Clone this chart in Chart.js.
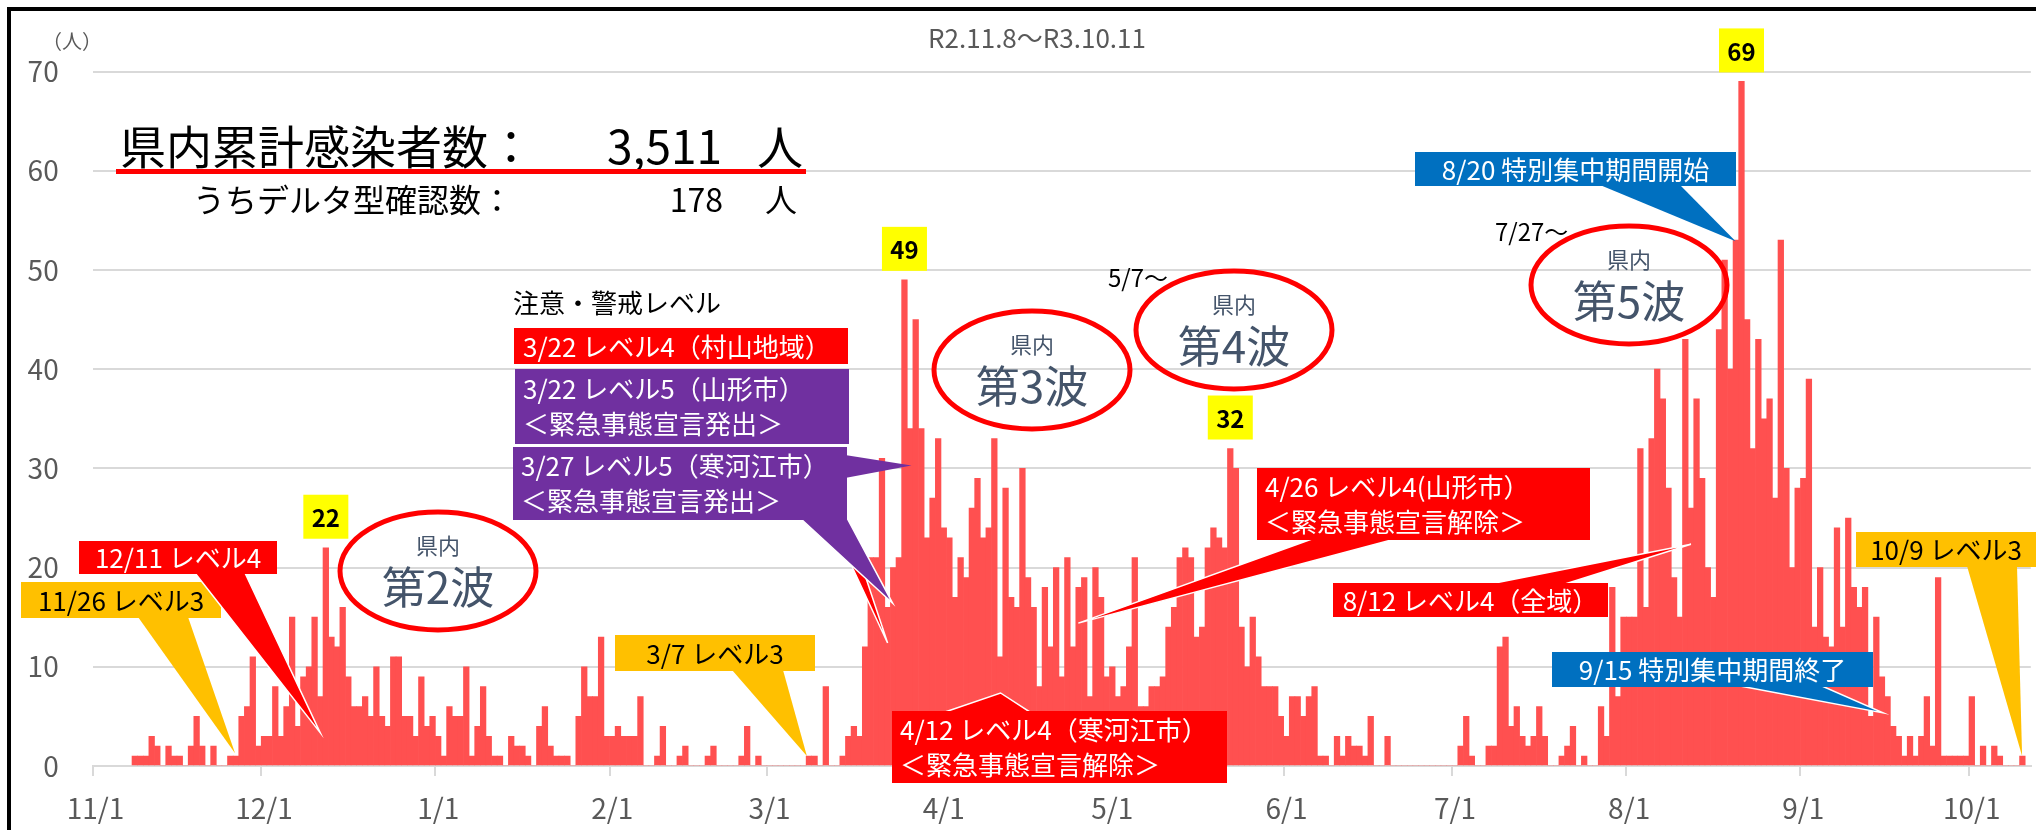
<!DOCTYPE html>
<html lang="ja">
<head>
<meta charset="utf-8">
<title>県内感染者数の推移</title>
<script src="https://cdn.jsdelivr.net/npm/chart.js@4/dist/chart.umd.min.js"></script>
<style>
  html, body { margin: 0; padding: 0; background: #fff; overflow: hidden; }
  #wrap { position: relative; width: 2036px; height: 830px; overflow: hidden; }
  #frame { position: absolute; left: 7px; top: 7px; width: 2100px; height: 900px; border: 4px solid #000; }
  #chart { position: absolute; left: 0; top: 0; }
</style>
</head>
<body>
<div id="wrap">
  <div id="frame"></div>
  <canvas id="chart" width="2044" height="830"></canvas>
</div>
<script>
// daily confirmed cases, one array per month (R2.11.8 - R3.10.11)
const nov2020 = [null, null, null, null, null, null, null, 1, 1, 1, 3, 2, 0, 2, 1, 1, 0, 2, 5, 2, 0, 2, 0, 0, 1, 1, 5, 6, 11, 2];
const dec2020 = [3, 3, 8, 3, 6, 15, 4, 9, 10, 15, 7, 22, 13, 12, 16, 9, 6, 6, 7, 5, 10, 5, 4, 11, 11, 5, 5, 3, 9, 4, 5];
const jan2021 = [3, 1, 6, 5, 5, 10, 1, 4, 8, 3, 1, 1, 0, 3, 2, 2, 1, 0, 4, 6, 2, 1, 1, 1, 0, 5, 10, 7, 7, 13, 3];
const feb2021 = [3, 4, 3, 3, 3, 7, 0, 0, 1, 4, 0, 0, 1, 2, 0, 0, 0, 1, 2, 0, 0, 0, 0, 1, 4, 0, 1, 0];
const mar2021 = [0, 0, 0, 0, 0, 0, 0, 1, 1, 0, 8, 0, 0, 1, 3, 4, 3, 12, 21, 21, 31, 16, 20, 21, 49, 34, 45, 34, 23, 27, 33];
const apr2021 = [24, 23, 17, 21, 19, 26, 29, 23, 24, 33, 11, 28, 17, 16, 30, 19, 16, 8, 18, 12, 20, 9, 21, 12, 18, 19, 7, 20, 17, 9];
const may2021 = [10, 7, 8, 12, 21, 6, 6, 8, 8, 9, 14, 16, 21, 22, 21, 13, 14, 22, 24, 23, 22, 32, 30, 14, 10, 15, 11, 8, 8, 8, 5];
const jun2021 = [3, 7, 7, 5, 7, 8, 1, 1, 0, 3, 1, 3, 2, 2, 1, 5, 0, 0, 3, 0, 0, 0, 0, 0, 0, 0, 0, 0, 0, 0];
const jul2021 = [0, 2, 5, 1, 0, 0, 2, 2, 12, 13, 4, 6, 3, 2, 3, 6, 3, 0, 0, 1, 2, 4, 0, 1, 0, 0, 6, 3, 18, 7, 15];
const aug2021 = [15, 15, 32, 16, 33, 40, 37, 28, 19, 15, 43, 26, 37, 29, 20, 17, 44, 51, 40, 53, 69, 45, 32, 43, 35, 37, 27, 53, 30, 20, 28];
const sep2021 = [29, 39, 14, 20, 13, 12, 24, 14, 25, 18, 16, 18, 5, 15, 9, 7, 4, 3, 1, 3, 1, 3, 7, 2, 19, 1, 1, 1, 1, 1];
const oct2021 = [7, 0, 2, 0, 2, 1, 0, 0, 0, 1, null];

const months = [
  [11, nov2020], [12, dec2020], [1, jan2021], [2, feb2021], [3, mar2021], [4, apr2021],
  [5, may2021], [6, jun2021], [7, jul2021], [8, aug2021], [9, sep2021], [10, oct2021]
];
const dayLabels = [];
const dailyCases = [];
months.forEach(([m, cases]) => {
  cases.forEach((v, i) => {
    dayLabels.push(m + '/' + (i + 1));
    dailyCases.push(v);
  });
});

// days whose value gets a yellow label
const peakDays = ['12/12', '3/25', '5/22', '8/21'];

const FONT = "'Noto Sans CJK JP', 'Noto Sans', sans-serif";
const GOLD = '#FFC000', RED = '#FF0000', PURPLE = '#7030A0', BLUE = '#0070C0';

// callout boxes: box = [x, y, w, h], base = pointer base, tip = [day position, value]
const callouts = [
  { lines: ['11/26 レベル3'], box: [21, 582, 200, 36], fill: GOLD, color: '#000', base: [138, 617, 188, 617], tip: [25.34, 1.28] },
  { lines: ['12/11 レベル4'], box: [79, 541, 198, 33], fill: RED, color: '#fff', base: [195, 573, 245, 573], tip: [40.49, 3.36], outline: true },
  { lines: ['3/7 レベル3'], box: [615, 635, 200, 36], fill: GOLD, color: '#000', base: [732, 670, 783, 670], tip: [127.13, 1.0] },
  { lines: ['3/22 レベル4（村山地域）'], box: [514, 328, 334, 36], fill: RED, color: '#fff', base: [821, 500, 840, 500], tip: [141.5, 12.4], outline: true, left: true },
  { lines: ['3/22 レベル5（山形市）', '＜緊急事態宣言発出＞'], box: [515, 369, 334, 75], fill: PURPLE, color: '#fff', base: [800, 518, 847, 518], tip: [142.4, 16.4], outline: true },
  { lines: ['3/27 レベル5（寒河江市）', '＜緊急事態宣言発出＞'], box: [513, 447, 334, 73], fill: PURPLE, color: '#fff', base: [845, 455, 845, 478], tip: [145.75, 30.3] },
  { lines: ['4/12 レベル4（寒河江市）', '＜緊急事態宣言解除＞'], box: [892, 711, 335, 72], fill: RED, color: '#fff', base: [945, 712, 1030, 712], tip: [161.6, 7.36], outline: true },
  { lines: ['4/26 レベル4(山形市）', '＜緊急事態宣言解除＞'], box: [1257, 468, 333, 72], fill: RED, color: '#fff', base: [1312, 539, 1395, 539], tip: [175.45, 14.4], outline: true },
  { lines: ['8/12 レベル4（全域）'], box: [1333, 583, 275, 34], fill: RED, color: '#fff', base: [1490, 584, 1565, 584], tip: [284.5, 22.35], outline: true },
  { lines: ['8/20 特別集中期間開始'], box: [1415, 152, 321, 34], fill: BLUE, color: '#fff', base: [1600, 185, 1680, 185], tip: [292.45, 52.9] },
  { lines: ['9/15 特別集中期間終了'], box: [1552, 652, 321, 35], fill: BLUE, color: '#fff', base: [1740, 686, 1822, 686], tip: [318.7, 5.35], outline: true },
  { lines: ['10/9 レベル3'], box: [1856, 532, 180, 35], fill: GOLD, color: '#000', base: [1967, 566, 2017, 566], tip: [343.45, 1.0] }
];

const waves = [
  { label: '第2波', cx: 438, cy: 571 },
  { label: '第3波', cx: 1032, cy: 370 },
  { label: '第4波', cx: 1234, cy: 330 },
  { label: '第5波', cx: 1629, cy: 285 }
];

function xAt(chart, pos) {
  const xs = chart.scales.x;
  const step = xs.getPixelForValue(1) - xs.getPixelForValue(0);
  return xs.getPixelForValue(0) + (pos - 0.5) * step;
}

function text(ctx, str, x, y, size, color, align, weight) {
  ctx.font = (weight || '') + ' ' + size + 'px ' + FONT;
  ctx.fillStyle = color;
  ctx.textAlign = align || 'left';
  ctx.textBaseline = 'middle';
  ctx.fillText(str, x, y);
}

const annotations = {
  id: 'annotations',
  afterDraw(chart) {
    const ctx = chart.ctx;
    const ys = chart.scales.y;
    ctx.save();

    text(ctx, '（人）', 72, 41, 20, '#595959', 'center');
    text(ctx, 'R2.11.8～R3.10.11', 1037, 38, 26, '#595959', 'center');

    // totals
    text(ctx, '県内累計感染者数：', 120, 147, 46, '#000');
    text(ctx, '3,511', 722, 147, 46, '#000', 'right');
    text(ctx, '人', 757, 147, 46, '#000');
    ctx.fillStyle = RED;
    ctx.fillRect(116, 169, 690, 5);
    text(ctx, 'うちデルタ型確認数：', 193, 200, 32, '#000');
    text(ctx, '178', 723, 200, 32, '#000', 'right');
    text(ctx, '人', 765, 200, 32, '#000');

    text(ctx, '注意・警戒レベル', 513, 303, 26, '#000');
    text(ctx, '5/7～', 1108, 278, 24, '#000');
    text(ctx, '7/27～', 1495, 232, 24, '#000');

    // wave ellipses
    waves.forEach(w => {
      ctx.beginPath();
      ctx.ellipse(w.cx, w.cy, 98, 59, 0, 0, Math.PI * 2);
      ctx.strokeStyle = RED;
      ctx.lineWidth = 5;
      ctx.stroke();
      text(ctx, '県内', w.cx, w.cy - 25, 22, '#44546A', 'center');
      text(ctx, w.label, w.cx, w.cy + 16, 44, '#44546A', 'center');
    });

    // callouts
    callouts.forEach(c => {
      const tx = xAt(chart, c.tip[0]);
      const ty = ys.getPixelForValue(c.tip[1]);
      ctx.beginPath();
      ctx.moveTo(c.base[0], c.base[1]);
      ctx.lineTo(tx, ty);
      ctx.lineTo(c.base[2], c.base[3]);
      ctx.closePath();
      ctx.fillStyle = c.fill;
      ctx.fill();
      if (c.outline) {
        ctx.strokeStyle = '#fff';
        ctx.lineWidth = 1.5;
        ctx.stroke();
      }
      const [x, y, w, h] = c.box;
      ctx.fillStyle = c.fill;
      ctx.fillRect(x, y, w, h);
      if (c.lines.length === 1) {
        if (c.left) text(ctx, c.lines[0], x + 9, y + h / 2 + 1, 26, c.color);
        else text(ctx, c.lines[0], x + w / 2, y + h / 2 + 1, 26, c.color, 'center');
      } else {
        c.lines.forEach((t, k) => text(ctx, t, x + 8, y + h / 2 + (k ? 18 : -17), 26, c.color));
      }
    });

    // peak labels
    peakDays.forEach(d => {
      const i = dayLabels.indexOf(d);
      const v = dailyCases[i];
      const cx = chart.scales.x.getPixelForValue(i);
      const cy = ys.getPixelForValue(v) - 31;
      ctx.fillStyle = '#FFFF00';
      ctx.fillRect(cx - 22.5, cy - 22, 45, 44);
      text(ctx, String(v), cx, cy + 1, 24, '#000', 'center', 'bold');
    });

    ctx.restore();
  }
};

const ctx = document.getElementById('chart').getContext('2d');
new Chart(ctx, {
  type: 'bar',
  data: {
    labels: dayLabels,
    datasets: [{
      label: '感染者数',
      data: dailyCases,
      backgroundColor: '#FF5050',
      borderWidth: 0,
      barPercentage: 1,
      categoryPercentage: 1
    }]
  },
  options: {
    responsive: false,
    animation: false,
    devicePixelRatio: 1,
    layout: { padding: { top: 71.5, right: 0, bottom: 0, left: 0 } },
    plugins: {
      legend: { display: false },
      tooltip: { enabled: false }
    },
    scales: {
      x: {
        afterFit: s => { s.height = 64; },
        grid: {
          offset: true,
          drawOnChartArea: false,
          tickLength: 10,
          lineWidth: 2,
          color: c => (dayLabels[c.index] || '').endsWith('/1') ? '#d9d9d9' : 'rgba(0,0,0,0)'
        },
        border: { color: '#d9d9d9', width: 2 },
        ticks: {
          autoSkip: false,
          maxRotation: 0,
          minRotation: 0,
          padding: 16,
          color: '#595959',
          font: { family: FONT, size: 28 },
          callback: value => dayLabels[value].endsWith('/1') ? dayLabels[value] : ''
        }
      },
      y: {
        min: 0,
        max: 70,
        afterFit: s => { s.width = 92.7; },
        grid: { color: '#d9d9d9', lineWidth: 2, drawTicks: false },
        border: { display: false },
        ticks: {
          stepSize: 10,
          padding: 34,
          color: '#595959',
          font: { family: FONT, size: 28 }
        }
      }
    }
  },
  plugins: [annotations]
});
</script>
</body>
</html>
